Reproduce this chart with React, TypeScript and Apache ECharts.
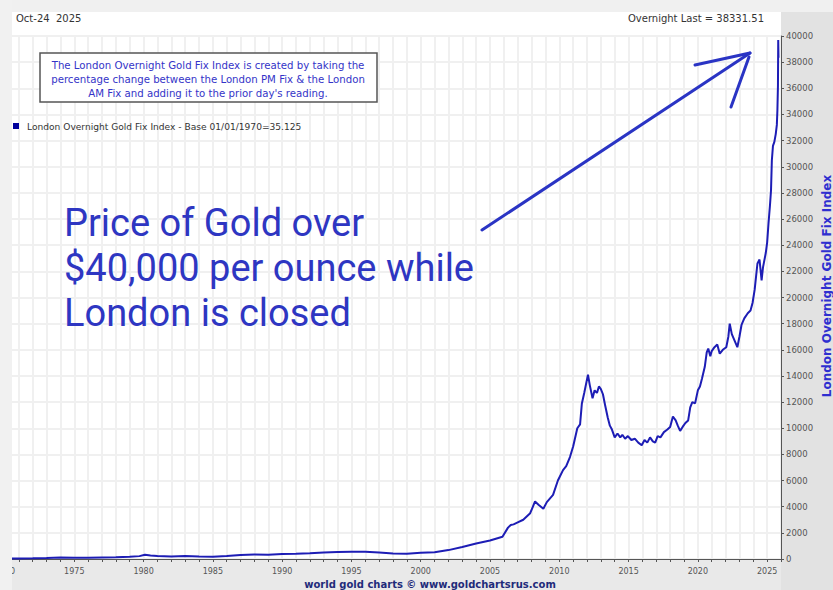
import React, { useEffect, useRef } from "react";
import * as echarts from "echarts";

const years = [
  1970.0, 1971.0, 1972.0, 1973.0, 1974.0, 1975.0, 1976.0, 1977.0, 1978.0, 1979.0, 1979.7, 1980.1, 1980.5,
  1981.0, 1982.0, 1983.0, 1984.0, 1985.0, 1986.0, 1987.0, 1988.0, 1989.0, 1990.0, 1991.0, 1992.0, 1993.0,
  1994.0, 1995.0, 1996.0, 1997.0, 1998.0, 1999.0, 2000.0, 2001.0, 2002.0, 2003.0, 2004.0, 2005.0, 2005.9,
  2006.3, 2006.5, 2006.7, 2007.0, 2007.4, 2007.9, 2008.25, 2008.5, 2008.85, 2009.1, 2009.55, 2009.9, 2010.27,
  2010.5, 2010.77, 2011.0, 2011.3, 2011.5, 2011.63, 2011.8, 2012.07, 2012.2, 2012.4, 2012.55, 2012.72, 2012.86,
  2013.0, 2013.15, 2013.3, 2013.5, 2013.65, 2013.8, 2014.0, 2014.2, 2014.4, 2014.55, 2014.75, 2014.95, 2015.2,
  2015.45, 2015.7, 2015.95, 2016.15, 2016.35, 2016.55, 2016.75, 2016.92, 2017.1, 2017.3, 2017.55, 2017.8,
  2018.0, 2018.2, 2018.4, 2018.55, 2018.72, 2018.9, 2019.1, 2019.3, 2019.45, 2019.6, 2019.8, 2020.0, 2020.15,
  2020.3, 2020.5, 2020.64, 2020.75, 2020.9, 2021.0, 2021.2, 2021.4, 2021.58, 2021.8, 2022.05, 2022.2, 2022.3,
  2022.45, 2022.65, 2022.85, 2023.0, 2023.15, 2023.35, 2023.6, 2023.8, 2023.95, 2024.1, 2024.3, 2024.45,
  2024.6, 2024.7, 2024.9, 2025.0, 2025.1, 2025.2, 2025.28, 2025.34, 2025.42, 2025.52, 2025.62, 2025.7,
  2025.74, 2025.78, 2025.8, 2025.82,
];

const indexValues = [
  35, 40, 55, 80, 110, 100, 90, 110, 130, 170, 220, 330, 270,
  230, 190, 220, 190, 180, 230, 300, 340, 330, 390, 410, 440, 490,
  530, 550, 560, 500, 430, 410, 470, 520, 680, 920, 1180, 1420, 1700,
  2400, 2600, 2650, 2800, 3000, 3500, 4400, 4150, 3850, 4350, 4900, 6000, 6800,
  7100, 7800, 8600, 10000, 10300, 11900, 12700, 14100, 13300, 12300, 12900, 12700, 13200,
  13000, 12600, 11800, 10800, 10200, 9900, 9300, 9600, 9300, 9500, 9200, 9400, 9100,
  9200, 8900, 8700, 9100, 8900, 9300, 9000, 8900, 9400, 9300, 9700, 9900,
  10100, 10900, 10600, 10200, 9800, 10100, 10400, 10600, 11600, 12000, 11900, 12900, 13200,
  13800, 14700, 15800, 16100, 15500, 15900, 16200, 16400, 15700, 16000, 16200, 17000, 18000,
  17200, 16700, 16200, 17000, 17900, 18400, 18800, 19000, 19600, 20600, 22600, 22900,
  21300, 22300, 23400, 24200, 25700, 27000, 28200, 30500, 31600, 31900, 32500, 33200,
  34300, 36200, 39700, 38331.51,
];

const dateLabel = "Oct-24  2025";
const lastLabel = "Overnight Last = 38331.51";
const infoLines = [
  "The London Overnight Gold Fix Index is created by taking the",
  "percentage change between the London PM Fix & the London",
  "AM Fix and adding it to the prior day's reading.",
];
const legendLabel = "London Overnight Gold Fix Index - Base 01/01/1970=35.125";
const headline = ["Price of Gold over", "$40,000 per ounce while", "London is closed"];
const axisTitle = "London Overnight Gold Fix Index";
const footer = "world gold charts \u00A9 www.goldchartsrus.com";

export default function App() {
  const ref = useRef<HTMLDivElement>(null);

  useEffect(() => {
    const chart = echarts.init(ref.current as HTMLDivElement, null, { renderer: "svg" });
    const data = years.map((y, i) => [y, indexValues[i]]);
    const font = "DejaVu Sans";

    chart.setOption({
      animation: false,
      backgroundColor: "#ffffff",
      grid: { left: 5, right: 52, top: 36, bottom: 31, containLabel: false, outerBoundsMode: "none" },
      xAxis: {
        type: "value",
        min: 1970,
        max: 2026,
        interval: 1,
        axisLine: { show: true, lineStyle: { color: "#555", width: 1 } },
        axisTick: { show: true, length: 3, lineStyle: { color: "#555" } },
        axisLabel: {
          color: "#555",
          fontSize: 8,
          fontFamily: font,
          margin: 8,
          showMaxLabel: true,
          showMinLabel: true,
          formatter: (v: number) => (Math.round(v) % 5 === 0 && Math.round(v) !== 2026 ? String(Math.round(v)) : ""),
        },
        splitLine: { show: true, lineStyle: { color: "#f0f0f0", width: 2 } },
      },
      yAxis: {
        type: "value",
        position: "right",
        min: 0,
        max: 40000,
        interval: 2000,
        axisLine: { show: true, lineStyle: { color: "#555", width: 1 } },
        axisTick: { show: true, length: 3, lineStyle: { color: "#555" } },
        axisLabel: {
          color: "#555",
          fontSize: 8.5,
          fontFamily: font,
          margin: 5,
          formatter: (v: number) => String(v),
        },
        splitLine: { show: true, lineStyle: { color: "#f0f0f0", width: 2 } },
      },
      series: [
        {
          type: "line",
          data,
          showSymbol: false,
          symbol: "none",
          clip: false,
          lineStyle: { color: "#1d1db5", width: 2 },
          z: 5,
        },
      ],
      graphic: [
        { type: "rect", z: -1, shape: { x: 0, y: 0, width: 833, height: 12 }, style: { fill: "#f0f0f0" } },
        { type: "rect", z: -1, shape: { x: 781, y: 12, width: 52, height: 578 }, style: { fill: "#e2e2e2" } },
        { type: "rect", z: -1, shape: { x: 12, y: 559, width: 769, height: 31 }, style: { fill: "#e9e9e9" } },
        { type: "rect", z: 100, shape: { x: 0, y: 0, width: 12, height: 590 }, style: { fill: "#f1f1f1" } },
        {
          type: "text", z: 10, x: 16, y: 18,
          style: { text: dateLabel, fill: "#333", font: `10px "${font}"`, align: "left", verticalAlign: "middle" },
        },
        {
          type: "text", z: 10, x: 764, y: 18,
          style: { text: lastLabel, fill: "#333", font: `10px "${font}"`, align: "right", verticalAlign: "middle" },
        },
        {
          type: "rect", z: 10, shape: { x: 40, y: 53, width: 337, height: 49 },
          style: { fill: "#ffffff", stroke: "#555", lineWidth: 1.5 },
        },
        ...infoLines.map((t, i) => ({
          type: "text", z: 11, x: 208, y: 65 + i * 14,
          style: { text: t, fill: "#3434c8", font: `10.2px "${font}"`, align: "center", verticalAlign: "middle" },
        })),
        { type: "rect", z: 10, shape: { x: 13, y: 123, width: 6, height: 6 }, style: { fill: "#00009c" } },
        {
          type: "text", z: 10, x: 27, y: 127,
          style: { text: legendLabel, fill: "#333", font: `9.1px "${font}"`, align: "left", verticalAlign: "middle" },
        },
        ...headline.map((t, i) => ({
          type: "text", z: 10, x: 64, y: 223 + i * 45,
          style: { text: t, fill: "#2e36c2", font: `38px Roboto`, align: "left", verticalAlign: "middle" },
        })),
        {
          type: "line", z: 12, shape: { x1: 482, y1: 230, x2: 750, y2: 53 },
          style: { stroke: "#2a34c4", lineWidth: 3, lineCap: "round" },
        },
        {
          type: "line", z: 12, shape: { x1: 695, y1: 65, x2: 750, y2: 53 },
          style: { stroke: "#2a34c4", lineWidth: 3, lineCap: "round" },
        },
        {
          type: "line", z: 12, shape: { x1: 731, y1: 107, x2: 749, y2: 57 },
          style: { stroke: "#2a34c4", lineWidth: 3, lineCap: "round" },
        },
        {
          type: "text", z: 10, x: 827, y: 286, rotation: Math.PI / 2,
          style: { text: axisTitle, fill: "#2f2fd0", font: `bold 12px "${font}"`, align: "center", verticalAlign: "middle" },
        },
        {
          type: "text", z: 10, x: 430, y: 584,
          style: { text: footer, fill: "#1f2b7a", font: `bold 10px "${font}"`, align: "center", verticalAlign: "middle" },
        },
      ],
    });

    return () => chart.dispose();
  }, []);

  return <div ref={ref} style={{ position: "fixed", left: 0, top: 0, width: 833, height: 590 }} />;
}
